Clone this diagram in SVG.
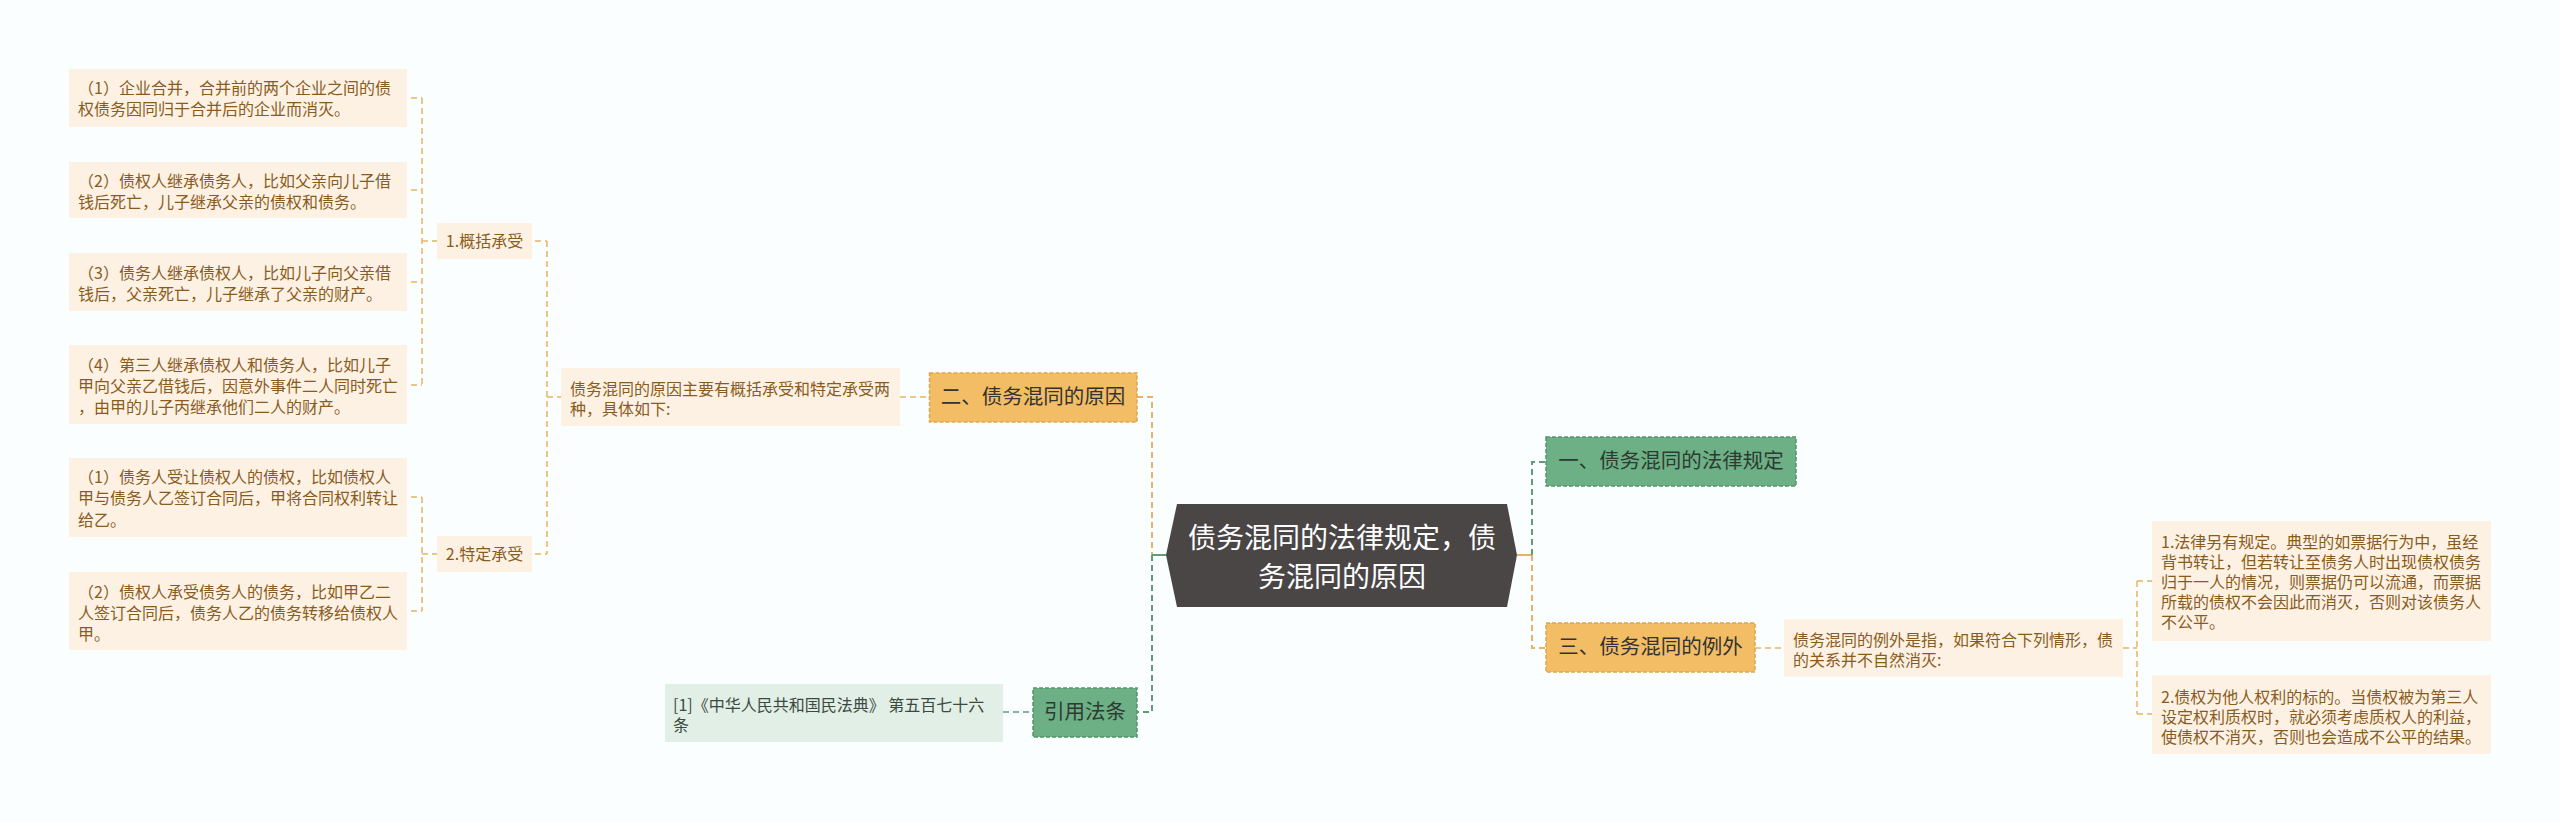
<svg xmlns="http://www.w3.org/2000/svg" width="2560" height="823" viewBox="0 0 2560 823">
<style>
text{font-family:"Noto Sans CJK SC","Noto Sans",sans-serif;}
.leaf{fill:#fdf1e3;}
.leaft{font-size:16px;fill:#8a5c1c;}
.gbox{fill:#e2efe6;}
.gt{font-size:16px;fill:#3b4a41;}
.ob{fill:#f2bd65;stroke:#dfa548;stroke-width:1.5;stroke-dasharray:4,2;}
.gb{fill:#6db086;stroke:#55946d;stroke-width:1.5;stroke-dasharray:4,2;}
.mt{font-size:20.5px;text-anchor:middle;}
.oc{fill:none;stroke:#e8b262;stroke-width:1.5;stroke-dasharray:6,4;}
.gc{fill:none;stroke:#5f9c78;stroke-width:1.5;stroke-dasharray:6,4;}
.oc2{fill:none;stroke:#e8b262;stroke-width:2;stroke-dasharray:6,4;}
.gc2{fill:none;stroke:#5f9c78;stroke-width:2;stroke-dasharray:6,4;}
</style>
<rect width="2560" height="823" fill="#fbfefe"/>
<g id="connectors">
<path class="oc" d="M411,98H422M411,190H422M411,282H422M411,385H422M422,98V385M422,241H437"/>
<path class="oc" d="M411,497H422M411,611H422M422,497V611M422,554H437"/>
<path class="oc" d="M535,241H547M535,554H547M547,241V554M547,397H561"/>
<path class="oc" d="M900,397H929"/>
<path class="oc2" d="M1137,397H1152V555"/>
<path class="gc2" d="M1152,555V712H1137"/>
<path d="M1152,555H1166" stroke="#5f9c78" stroke-width="2"/>
<path class="gc" d="M1003,712H1033"/>
<path d="M1517,555H1532" stroke="#e8b262" stroke-width="2"/>
<path class="gc2" d="M1532,555V462H1546"/>
<path class="oc2" d="M1532,555V648H1546"/>
<path class="oc" d="M1755,648H1784M2123,648H2137M2137,581V714M2137,581H2152M2137,714H2152"/>
</g>
<g id="center">
<polygon points="1166,555 1177,504 1507,504 1517,555 1507,607 1177,607" fill="#4a4646"/>
<text x="1342" y="548" font-size="28" fill="#ffffff" text-anchor="middle">债务混同的法律规定，债</text>
<text x="1342" y="587" font-size="28" fill="#ffffff" text-anchor="middle">务混同的原因</text>
</g>
<g id="n-reason">
<rect class="ob" x="929.5" y="373" width="207.5" height="49"/>
<text class="mt" x="1033" y="404" fill="#333333">二、债务混同的原因</text>
</g>
<g id="n-reason-desc">
<rect class="leaf" x="561" y="368" width="339" height="58"/>
<text class="leaft" x="570" y="395">债务混同的原因主要有概括承受和特定承受两</text>
<text class="leaft" x="570" y="415">种，具体如下:</text>
</g>
<g id="n-general">
<rect class="leaf" x="437" y="223" width="95" height="36"/>
<text class="leaft" x="484.5" y="247" text-anchor="middle">1.概括承受</text>
</g>
<g id="n-specific">
<rect class="leaf" x="437" y="536" width="95" height="36"/>
<text class="leaft" x="484.5" y="560" text-anchor="middle">2.特定承受</text>
</g>
<g id="n-g1">
<rect class="leaf" x="69" y="69" width="338" height="58"/>
<text class="leaft" x="78" y="94">（1）企业合并，合并前的两个企业之间的债</text>
<text class="leaft" x="78" y="115">权债务因同归于合并后的企业而消灭。</text>
</g>
<g id="n-g2">
<rect class="leaf" x="69" y="162" width="338" height="56"/>
<text class="leaft" x="78" y="187">（2）债权人继承债务人，比如父亲向儿子借</text>
<text class="leaft" x="78" y="208">钱后死亡，儿子继承父亲的债权和债务。</text>
</g>
<g id="n-g3">
<rect class="leaf" x="69" y="253" width="338" height="58"/>
<text class="leaft" x="78" y="279">（3）债务人继承债权人，比如儿子向父亲借</text>
<text class="leaft" x="78" y="300">钱后，父亲死亡，儿子继承了父亲的财产。</text>
</g>
<g id="n-g4">
<rect class="leaf" x="69" y="345" width="338" height="79"/>
<text class="leaft" x="78" y="371">（4）第三人继承债权人和债务人，比如儿子</text>
<text class="leaft" x="78" y="392">甲向父亲乙借钱后，因意外事件二人同时死亡</text>
<text class="leaft" x="78" y="413">，由甲的儿子丙继承他们二人的财产。</text>
</g>
<g id="n-s1">
<rect class="leaf" x="69" y="458" width="338" height="79"/>
<text class="leaft" x="78" y="483">（1）债务人受让债权人的债权，比如债权人</text>
<text class="leaft" x="78" y="504">甲与债务人乙签订合同后，甲将合同权利转让</text>
<text class="leaft" x="78" y="526">给乙。</text>
</g>
<g id="n-s2">
<rect class="leaf" x="69" y="572" width="338" height="78"/>
<text class="leaft" x="78" y="598">（2）债权人承受债务人的债务，比如甲乙二</text>
<text class="leaft" x="78" y="619">人签订合同后，债务人乙的债务转移给债权人</text>
<text class="leaft" x="78" y="640">甲。</text>
</g>
<g id="n-law">
<rect class="gb" x="1033" y="688" width="104" height="49"/>
<text class="mt" x="1085" y="719" fill="#2d3a31">引用法条</text>
</g>
<g id="n-law-ref">
<rect class="gbox" x="665" y="684" width="338" height="58"/>
<text class="gt" x="673" y="711">[1]《中华人民共和国民法典》 第五百七十六</text>
<text class="gt" x="673" y="731">条</text>
</g>
<g id="n-rule">
<rect class="gb" x="1546" y="437" width="250" height="49"/>
<text class="mt" x="1671" y="468" fill="#2d3a31">一、债务混同的法律规定</text>
</g>
<g id="n-exception">
<rect class="ob" x="1546" y="623" width="209" height="49"/>
<text class="mt" x="1650.5" y="654" fill="#333333">三、债务混同的例外</text>
</g>
<g id="n-exception-desc">
<rect class="leaf" x="1784" y="619" width="339" height="58"/>
<text class="leaft" x="1793" y="646">债务混同的例外是指，如果符合下列情形，债</text>
<text class="leaft" x="1793" y="666">的关系并不自然消灭:</text>
</g>
<g id="n-e1">
<rect class="leaf" x="2152" y="521" width="339" height="120"/>
<text class="leaft" x="2161" y="548">1.法律另有规定。典型的如票据行为中，虽经</text>
<text class="leaft" x="2161" y="568">背书转让，但若转让至债务人时出现债权债务</text>
<text class="leaft" x="2161" y="588">归于一人的情况，则票据仍可以流通，而票据</text>
<text class="leaft" x="2161" y="608">所载的债权不会因此而消灭，否则对该债务人</text>
<text class="leaft" x="2161" y="628">不公平。</text>
</g>
<g id="n-e2">
<rect class="leaf" x="2152" y="675" width="339" height="79"/>
<text class="leaft" x="2161" y="703">2.债权为他人权利的标的。当债权被为第三人</text>
<text class="leaft" x="2161" y="723">设定权利质权时，就必须考虑质权人的利益，</text>
<text class="leaft" x="2161" y="743">使债权不消灭，否则也会造成不公平的结果。</text>
</g>
</svg>
